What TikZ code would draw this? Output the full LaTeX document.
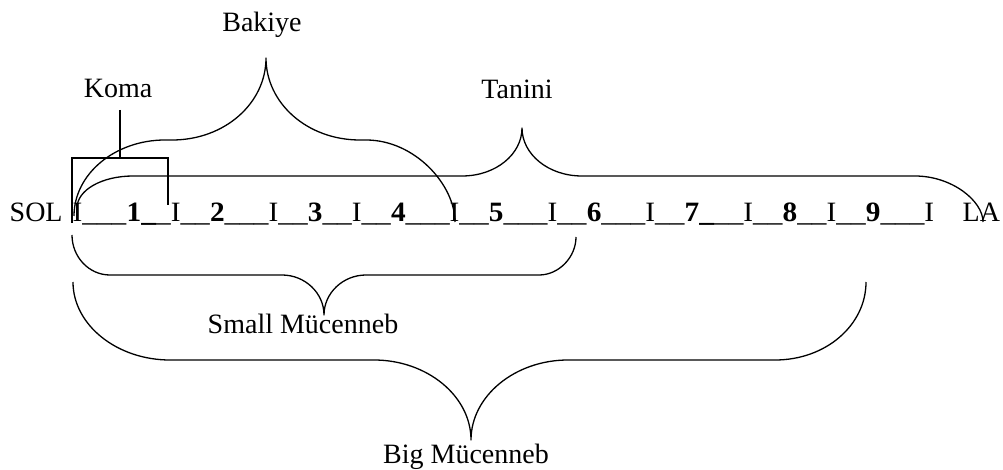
\documentclass[tikz,border=0pt]{standalone}
\usepackage{fontspec}
\setmainfont{Liberation Serif}
% the interval line is set slightly wider than the labels
\newfontfamily\linefont{Liberation Serif}[FakeStretch=1.046]
\begin{document}
\begin{tikzpicture}[x=1pt,y=-1pt,
  label/.style={font=\fontsize{28}{34}\selectfont, inner sep=0pt, anchor=base},
  brace/.style={line width=1.3pt, line join=round},
  bracket/.style={line width=1.4pt}]
\fill[white] (0,0) rectangle (1003,470);
\useasboundingbox (0,0) rectangle (1003,470);

% the scale of intervals between SOL and LA
\node[label, anchor=base west] (sol) at (9.5,222) {SOL};
\node[label, anchor=base west, font=\fontsize{28}{34}\linefont] (scale) at (72.5,222)
  {I\_\_\_\textbf{1\_}\_I\_\_\textbf{2}\_\_\_I\_\_\textbf{3}\_\_I\_\_\textbf{4}\_\_\_I\_\_\textbf{5}\_\_\_I\_\_\textbf{6}\_\_\_I\_\_\textbf{7\_}\_\_I\_\_\textbf{8}\_\_I\_\_\textbf{9}\_\_\_I};
\node[label, anchor=base west] (la) at (962.5,222) {LA};

% labels
\node[label] (koma) at (118,98) {Koma};
\node[label] (bakiye) at (262,32) {Bakiye};
\node[label] (tanini) at (517,99) {Tanini};
\node[label] (small) at (303,333) {Small Mücenneb};
\node[label] (big) at (466,463) {Big Mücenneb};

% Koma bracket
\draw[bracket] (120,110) -- (120,158);
\draw[bracket] (72,223) -- (72,158) -- (168,158) -- (168,205);

% Bakiye brace
\draw[brace] (74,216) .. controls (74,174) and (115,140) .. (165,140) -- (172,140)
  .. controls (225,140) and (266,103) .. (266,58)
  .. controls (266,103) and (307,140) .. (360,140) -- (366,140)
  .. controls (415,140) and (455,185) .. (455,222);

% Tanini brace
\draw[brace] (77,208) .. controls (77,190) and (102,176) .. (133,176) -- (462,176)
  .. controls (496,176) and (522,154) .. (522,128)
  .. controls (522,154) and (548,176) .. (582,176) -- (915,176)
  .. controls (952,176) and (983,201) .. (983,222);

% Small Mucenneb brace
\draw[brace] (72,235) .. controls (72,257) and (89,275) .. (110,275) -- (282,275)
  .. controls (305,275) and (324,293) .. (324,315)
  .. controls (324,293) and (343,275) .. (366,275) -- (539,275)
  .. controls (559,275) and (576,257) .. (576,237);

% Big Mucenneb brace
\draw[brace] (73,282) .. controls (73,325) and (117,360) .. (170,360) -- (374,360)
  .. controls (427,360) and (471,396) .. (471,440)
  .. controls (471,396) and (515,360) .. (568,360) -- (775,360)
  .. controls (826,360) and (866,325) .. (866,282);
\end{tikzpicture}
\end{document}
